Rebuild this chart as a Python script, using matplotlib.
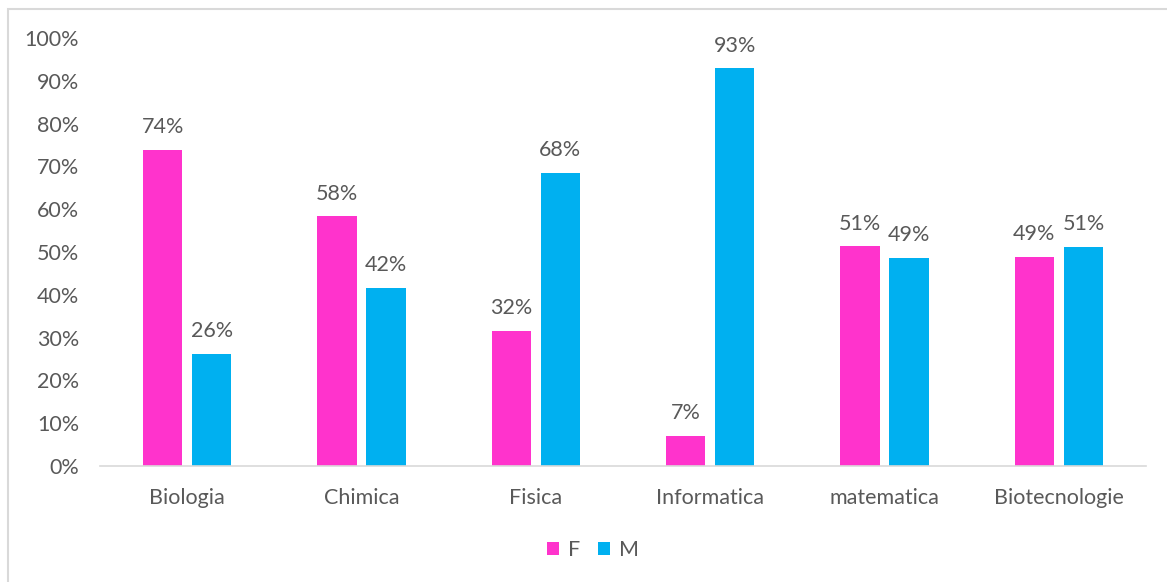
import numpy as np
import matplotlib.pyplot as plt
from matplotlib.patches import Rectangle

categories = ['Biologia', 'Chimica', 'Fisica', 'Informatica', 'matematica', 'Biotecnologie']
female = [73.8, 58.3, 31.6, 7.1, 51.3, 48.9]
male = [26.2, 41.7, 68.4, 92.9, 48.7, 51.1]
series_names = ['F', 'M']

pink = '#FF33CC'
blue = '#00B0F0'
txt = '#595959'

plt.rcParams['font.family'] = ['Lato', 'DejaVu Sans']
fs = 15.5

fig = plt.figure(figsize=(11.67, 5.82), dpi=100)
ax = fig.add_axes([0.0857, 0.1993, 0.8963, 0.7354])

# light border of the chart area (cropped on right/bottom in the original)
fig.patches.append(Rectangle((8 / 1167, -0.1), 2, (582 - 9) / 582 + 0.1, transform=fig.transFigure,
                             fill=False, edgecolor='#D9D9D9', linewidth=1.5))

x = np.arange(len(categories))
w = 0.225
off = 0.141
bf = ax.bar(x - off, female, w, color=pink, label=series_names[0])
bm = ax.bar(x + off, male, w, color=blue, label=series_names[1])

for bars, vals in ((bf, female), (bm, male)):
    for b, v in zip(bars, vals):
        ax.text(b.get_x() + b.get_width() / 2, v + 3, f"{round(v):.0f}%", ha='center', va='bottom',
                fontsize=fs, color=txt)

ax.set_xlim(-0.5, len(categories) - 0.5)
ax.set_ylim(0, 100)
ax.set_yticks(np.arange(0, 101, 10))
ax.set_yticklabels([f"{t}%" for t in range(0, 101, 10)])
ax.set_xticks(x)
ax.set_xticklabels(categories)
ax.tick_params(axis='both', length=0, labelsize=fs, colors=txt)
ax.tick_params(axis='y', pad=15)
ax.tick_params(axis='x', pad=16)
for s in ['top', 'right', 'left']:
    ax.spines[s].set_visible(False)
ax.spines['bottom'].set_color('#D9D9D9')
ax.spines['bottom'].set_linewidth(1.2)

leg = fig.legend(loc='center', bbox_to_anchor=(0.508, 0.055), ncol=2, frameon=False, fontsize=fs,
                 handlelength=0.6, handleheight=0.6, handletextpad=0.4, columnspacing=0.8)
for t in leg.get_texts():
    t.set_color(txt)

fig.savefig('out.png', dpi=100)
